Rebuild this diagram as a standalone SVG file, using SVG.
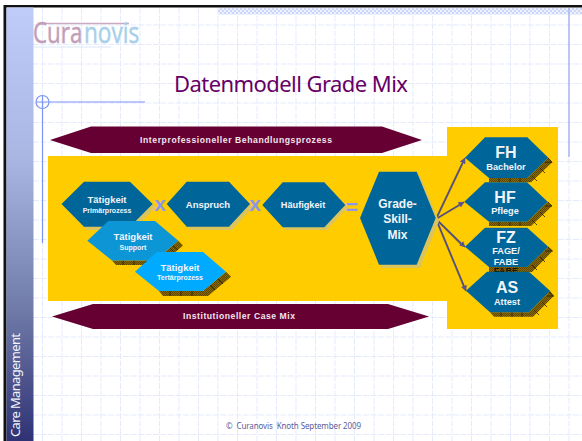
<svg xmlns="http://www.w3.org/2000/svg" width="582" height="441" viewBox="0 0 582 441">
<style>
text{font-family:"Liberation Sans",Arial,sans-serif;font-weight:bold;fill:#f2f4fa;text-anchor:middle}
.grid{fill:none;stroke:#e6ebfc;stroke-width:1;stroke-dasharray:6 1.5}
.rib{fill:#660033}
.rt{font-size:8.600px;fill:#f3e6ee}
.flat{fill:#006699}
.sh{fill:#dcc45c}
.hatch{fill:url(#hatch)}
.tick{fill:none;stroke:#2a1c00;stroke-width:.8}
.s{font-size:7px}
.m{font-size:9.500px}
.b{font-size:16px}
.n{font-size:9.200px}
.op{font-size:21px;fill:#8c96ec}
.cn{fill:none;stroke:#4b4a8e;stroke-width:1.200;marker-end:url(#arr)}
.cu{fill:none;stroke:#8d7440;stroke-width:2}
.logo{font-family:"Open Sans",sans-serif;font-weight:400;font-size:29px;text-anchor:start;stroke-width:.5}
</style>
<defs>
<linearGradient id="band" x1="0" y1="0" x2="0" y2="1">
<stop offset="0" stop-color="#bfcbf8"/><stop offset=".35" stop-color="#a9b6e2"/><stop offset=".7" stop-color="#6f7aa8"/><stop offset="1" stop-color="#2e3274"/>
</linearGradient>
<pattern id="hatch" width="2" height="2" patternUnits="userSpaceOnUse"><rect width="2" height="2" fill="#8a6a00"/><rect width="1" height="1" fill="#5c4600"/><rect x="1" y="1" width="1" height="1" fill="#5c4600"/></pattern>
<pattern id="check" width="4" height="4" patternUnits="userSpaceOnUse"><rect width="4" height="4" fill="#eef1fd"/><rect width="2" height="2" fill="#ccd6f7"/><rect x="2" y="2" width="2" height="2" fill="#ccd6f7"/></pattern>
<marker id="arr" markerWidth="7" markerHeight="7" refX="5.500" refY="3" orient="auto" markerUnits="userSpaceOnUse"><path d="M0 0L6 3L0 6Z" fill="#5a5288"/></marker>
</defs>
<rect width="582" height="441" fill="#fff"/>
<path class="grid" d="M42.500 8V441M62 8V441M81.500 8V441M101 8V441M120.500 8V441M140 8V441M159.500 8V441M179 8V441M198.500 8V441M218 8V441M237.500 8V441M257 8V441M276.500 8V441M296 8V441M315.500 8V441M335 8V441M354.500 8V441M374 8V441M393.500 8V441M413 8V441M432.500 8V441M452 8V441M471.500 8V441M491 8V441M510.500 8V441M530 8V441M549.500 8V441M569 8V441"/>
<path class="grid" d="M33 25H582M33 44.500H582M33 64H582M33 83.500H582M33 103H582M33 122.500H582M33 142H582M33 161.500H582M33 181H582M33 200.500H582M33 220H582M33 239.500H582M33 259H582M33 278.500H582M33 298H582M33 317.500H582M33 337H582M33 356.500H582M33 376H582M33 395.500H582M33 415H582M33 434.500H582"/>
<rect x="218" y="8" width="364" height="6.500" fill="url(#check)"/>
<rect x="4" y="5" width="578" height="2.500" fill="#111"/>
<rect x="3.500" y="5" width="3" height="436" fill="#111"/>
<rect x="6.500" y="7.500" width="27" height="433.500" fill="url(#band)"/>
<g id="logo">
<path d="M43 23.500H129" stroke="#c9aac2" stroke-width="1.600" fill="none"/>
<path d="M34 47H111" stroke="#dbe6f6" stroke-width="1" fill="none"/>
<text class="logo" transform="translate(33 43) scale(.77 1)" style="fill:#c29fb9;stroke:#c29fb9">Cura</text>
<text class="logo" transform="translate(84 43) scale(.78 1)" style="fill:#a8d0ea;stroke:#a8d0ea">novis</text>
</g>
<g id="guides" fill="none" stroke="#7b94f5" stroke-width="1.200">
<path d="M36 102H145M42.500 95.500V243"/>
<circle cx="42.500" cy="102" r="6.500"/>
<path d="M569 8V157" stroke="#a6b6f5" stroke-width="1.500"/>
</g>
<text id="title" x="291" y="92" textLength="234" style="font-family:'Noto Sans',sans-serif;font-weight:400;font-size:22px;fill:#660066">Datenmodell Grade Mix</text>
<text id="sidebar" transform="translate(20 437) rotate(-90)" textLength="104" style="font-family:'Noto Sans',sans-serif;font-weight:400;font-size:13px;fill:#f2f4fa;text-anchor:start" x="0" y="0">Care Management</text>
<text id="footer" x="293.500" y="429" textLength="135" style="font-family:'Noto Sans',sans-serif;font-weight:400;font-size:8px;fill:#5c5c9c" xml:space="preserve">©  Curanovis  Knoth September 2009</text>
<path id="yellow" d="M48 156H447V127H558V329H447V301H48Z" fill="#ffcc00"/>
<g id="rib-top"><polygon class="rib" points="50,140 91,126.500 382,126.500 422,140 382,153 91,153"/><text class="rt" x="236" y="143" textLength="192">Interprofessioneller Behandlungsprozess</text></g>
<g id="rib-bottom"><polygon class="rib" points="52,316.500 93,304 388,304 429,316.500 388,329 93,329"/><text class="rt" x="239" y="319" textLength="112">Institutioneller Case Mix</text></g>
<g id="connectors">
<path class="cu" d="M436 219L464 160M436 219L463 203M436 219L463 246M436 219L465 289"/>
<path class="cn" d="M436 219L465 158"/>
<path class="cn" d="M436 219L464 202"/>
<path class="cn" d="M436 219L465 247"/>
<path class="cn" d="M436 219L466 291"/>
</g>
<g id="n-primaer">
<polygon class="sh" points="64,207 87,185 133,185 156,207 133,230 87,230"/>
<polygon class="flat" points="61.500,204 84,181.700 130,181.700 152.700,204 130,226.700 84,226.700"/>
<text class="m" x="107" y="203">Tätigkeit</text><text class="s" x="107" y="213">Primärprozess</text>
</g>
<g id="n-anspruch">
<polygon class="sh" points="170,207 190,185 232,185 253,207 232,230 190,230"/>
<polygon class="flat" points="166.700,204 186.700,181.700 229,181.700 250,204 229,226.700 186.700,226.700"/>
<text class="m" x="208" y="208">Anspruch</text>
</g>
<g id="n-haeufigkeit">
<polygon class="sh" points="265,208 286,185 327,185 348,207 327,230 286,230"/>
<polygon class="flat" points="262.300,205 282.700,182.300 324.300,182.300 345.300,205 324.300,227.300 282.700,227.300"/>
<text class="n" x="303" y="208">Häufigkeit</text>
</g>
<g id="n-grade">
<polygon class="sh" points="363,221 382,175 420,175 439,221 420,268 382,268"/>
<polygon class="flat" points="360,218 379,171.700 416.700,171.700 435.700,218 416.700,264.700 379,264.700"/>
<text style="font-size:12px" x="397.500" y="208">Grade-</text><text style="font-size:12px" x="397.500" y="223">Skill-</text><text style="font-size:12px" x="397.500" y="239">Mix</text>
</g>
<text class="op" x="160" y="210.500">x</text>
<text class="op" x="255" y="211">x</text>
<text class="op" x="352" y="214">=</text>
<g id="n-support">
<polygon class="hatch" points="112,260.500 116,265 160,265 183,245.500 178.300,240.700 155,260.500"/>
<path class="tick" d="M123 260.500V265M134 260.500V265M146 260.500V265M163 254L168 259M170 248L175 253M173 246L178 250"/>
<polygon points="87.300,240.700 108.300,221 155,221 178.300,240.700 155,260.500 112,260.500" fill="#0d96d6"/>
<text class="m" x="133" y="240">Tätigkeit</text><text class="s" x="133" y="250">Support</text>
</g>
<g id="n-tertiaer">
<polygon class="hatch" points="159,291 163,296 208,296 231,276.700 226,271.700 203,291"/>
<path class="tick" d="M170 291V296M181 291V296M192 291V296M210 285L215 290M218 279L223 284"/>
<polygon points="135,271.700 156.700,252 203,252 226,271.700 203,291 159,291" fill="#00aaff"/>
<text class="m" x="180" y="271">Tätigkeit</text><text class="s" x="180" y="280">Tertärprozess</text>
</g>
<g id="n-fh">
<polygon class="hatch" points="489,178 489,182.300 531,182.300 552.300,162.300 548.300,157.700 527.300,178"/>
<path class="tick" d="M499 178V182.300M510 178V182.300M520 178V182.300M532 176L537 181M540 168L545 173M548 158L552 162.300H545"/>
<polygon class="flat" points="465,157.700 485,137.300 527.300,137.300 548.300,157.700 527.300,178 489,178"/>
<text class="b" x="506" y="158">FH</text><text class="n" x="506" y="170">Bachelor</text>
</g>
<g id="n-hf">
<polygon class="hatch" points="489,221.700 489,226 531,226 552,206 547.700,201.700 527,221.700"/>
<path class="tick" d="M499 221.700V226M510 221.700V226M520 221.700V226M532 220L537 225M540 212L545 217M548 202L552 206H545"/>
<polygon class="flat" points="464.300,201.700 485,182.300 527,182.300 547.700,201.700 527,221.700 489,221.700"/>
<text class="b" x="505" y="203">HF</text><text class="n" x="505" y="214">Pflege</text>
</g>
<g id="n-fz">
<polygon class="hatch" points="489,267 489,272 532,272 552.500,251 548.300,246.700 527.300,267"/>
<path class="tick" d="M532 265L537 270M540 257L545 262M548 247L552.500 251H545"/>
<text x="506" y="274" style="font-size:9.200px;fill:#1a1200">FABE</text>
<polygon class="flat" points="465,246.700 485,227.700 527.300,227.700 548.300,246.700 527.300,267 489,267"/>
<text class="b" x="506" y="243">FZ</text><text class="n" x="506" y="253.500">FAGE/</text><text class="n" x="506" y="265">FABE</text>
</g>
<g id="n-as">
<polygon class="hatch" points="490,312.300 494,316.700 533,316.700 553.700,296 550,290.700 529,312.300"/>
<path class="tick" d="M501 312.300V316.700M512 312.300V316.700M522 312.300V316.700M534 310L539 315M542 302L547 307M549 292L553.700 296H547"/>
<polygon class="flat" points="466,290.700 487,271.700 529,271.700 550,290.700 529,312.300 490,312.300"/>
<text class="b" x="507" y="293">AS</text><text class="n" x="507" y="305">Attest</text>
</g>
</svg>
